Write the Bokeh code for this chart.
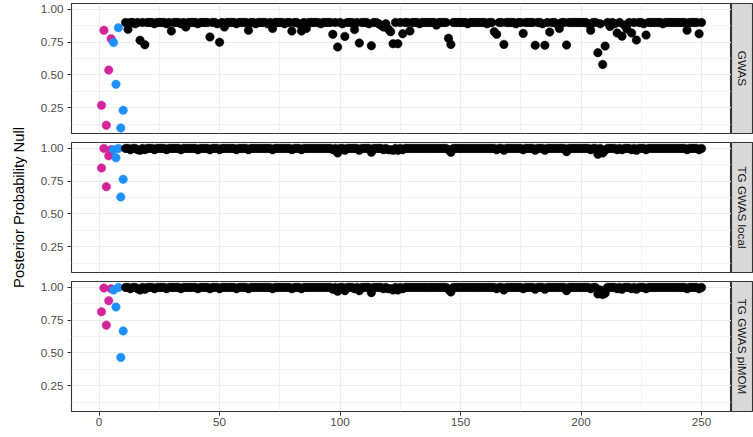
import math
from bokeh.plotting import figure
from bokeh.layouts import row, column
from bokeh.models import Range1d, FixedTicker, ColumnDataSource
from bokeh.embed import file_html
from bokeh.resources import INLINE
from bokeh.core.properties import value

# ---------------- data ----------------
facet_labels = ["GWAS", "TG GWAS local", "TG GWAS piMOM"]
y_axis_title = "Posterior Probability Null"

x_ticks = [0, 50, 100, 150, 200, 250]
x_tick_labels = ["0", "50", "100", "150", "200", "250"]
x_minor = [25, 75, 125, 175, 225]
y_ticks = [0.25, 0.50, 0.75, 1.00]
y_tick_labels = ["0.25", "0.50", "0.75", "1.00"]
y_minor = [0.125, 0.375, 0.625, 0.875]

# point index 1..250; first 5 = group A (magenta), next 5 = group B (blue), rest = other (black)
group_colors = {"A": "#D3249A", "B": "#1E90FF", "other": "#000000"}
group = ["A"] * 5 + ["B"] * 5 + ["other"] * 240

gwas = [
    0.268, 0.84, 0.116, 0.537, 0.776, 0.748, 0.428, 0.86, 0.095, 0.23,
    0.90, 0.848, 0.90, 0.90, 0.89, 0.90, 0.764, 0.90, 0.73, 0.90,
    0.90, 0.90, 0.89, 0.90, 0.90, 0.90, 0.90, 0.89, 0.90, 0.835,
    0.90, 0.90, 0.90, 0.89, 0.90, 0.865, 0.90, 0.90, 0.90, 0.90,
    0.89, 0.90, 0.90, 0.90, 0.90, 0.79, 0.90, 0.90, 0.89, 0.75,
    0.90, 0.865, 0.90, 0.90, 0.90, 0.90, 0.89, 0.90, 0.90, 0.90,
    0.90, 0.84, 0.90, 0.90, 0.89, 0.90, 0.90, 0.90, 0.90, 0.89,
    0.90, 0.855, 0.90, 0.90, 0.90, 0.90, 0.89, 0.90, 0.90, 0.835,
    0.90, 0.90, 0.89, 0.835, 0.90, 0.855, 0.90, 0.90, 0.90, 0.90,
    0.90, 0.89, 0.90, 0.90, 0.90, 0.90, 0.81, 0.90, 0.713, 0.90,
    0.89, 0.794, 0.90, 0.90, 0.90, 0.846, 0.90, 0.743, 0.90, 0.90,
    0.90, 0.89, 0.723, 0.90, 0.90, 0.89, 0.88, 0.865, 0.89, 0.85,
    0.83, 0.738, 0.90, 0.738, 0.90, 0.814, 0.90, 0.90, 0.835, 0.90,
    0.90, 0.90, 0.89, 0.90, 0.90, 0.90, 0.90, 0.90, 0.90, 0.88,
    0.90, 0.90, 0.90, 0.90, 0.78, 0.733, 0.90, 0.90, 0.90, 0.90,
    0.90, 0.90, 0.89, 0.90, 0.90, 0.90, 0.90, 0.90, 0.90, 0.90,
    0.89, 0.90, 0.90, 0.83, 0.81, 0.90, 0.90, 0.733, 0.90, 0.90,
    0.90, 0.90, 0.89, 0.90, 0.90, 0.817, 0.90, 0.90, 0.90, 0.90,
    0.726, 0.90, 0.90, 0.89, 0.726, 0.90, 0.827, 0.90, 0.90, 0.89,
    0.855, 0.90, 0.90, 0.728, 0.90, 0.90, 0.90, 0.90, 0.90, 0.90,
    0.90, 0.90, 0.89, 0.84, 0.90, 0.90, 0.67, 0.89, 0.58, 0.72,
    0.90, 0.87, 0.90, 0.89, 0.82, 0.90, 0.796, 0.88, 0.85, 0.90,
    0.82, 0.90, 0.766, 0.90, 0.90, 0.89, 0.804, 0.90, 0.90, 0.90,
    0.90, 0.90, 0.90, 0.89, 0.90, 0.90, 0.90, 0.90, 0.90, 0.90,
    0.90, 0.90, 0.90, 0.84, 0.90, 0.90, 0.90, 0.90, 0.814, 0.90,
]

tg_local = [
    0.85, 1.00, 0.708, 0.943, 0.99, 0.99, 0.928, 1.00, 0.63, 0.764,
    1.00, 1.00, 0.99, 1.00, 1.00, 0.99, 0.985, 1.00, 0.99, 1.00,
    1.00, 1.00, 0.99, 1.00, 1.00, 1.00, 1.00, 0.99, 1.00, 1.00,
    1.00, 1.00, 1.00, 0.99, 1.00, 1.00, 1.00, 1.00, 1.00, 1.00,
    0.99, 1.00, 1.00, 1.00, 1.00, 0.99, 1.00, 1.00, 1.00, 0.99,
    1.00, 1.00, 1.00, 1.00, 1.00, 1.00, 0.99, 1.00, 1.00, 1.00,
    1.00, 0.99, 1.00, 1.00, 1.00, 1.00, 1.00, 1.00, 1.00, 1.00,
    1.00, 0.99, 1.00, 1.00, 1.00, 1.00, 1.00, 1.00, 1.00, 0.99,
    1.00, 1.00, 1.00, 0.99, 1.00, 1.00, 1.00, 1.00, 1.00, 1.00,
    1.00, 1.00, 1.00, 1.00, 1.00, 1.00, 0.99, 1.00, 0.965, 1.00,
    1.00, 0.985, 1.00, 1.00, 1.00, 1.00, 1.00, 0.985, 1.00, 1.00,
    1.00, 1.00, 0.97, 1.00, 1.00, 1.00, 1.00, 0.99, 1.00, 0.99,
    0.99, 0.985, 1.00, 0.985, 1.00, 0.99, 1.00, 1.00, 1.00, 1.00,
    1.00, 1.00, 1.00, 1.00, 1.00, 1.00, 1.00, 1.00, 1.00, 1.00,
    1.00, 1.00, 1.00, 1.00, 0.99, 0.97, 1.00, 1.00, 1.00, 1.00,
    1.00, 1.00, 1.00, 1.00, 1.00, 1.00, 1.00, 1.00, 1.00, 1.00,
    1.00, 1.00, 1.00, 1.00, 0.99, 1.00, 1.00, 0.985, 1.00, 1.00,
    1.00, 1.00, 1.00, 1.00, 1.00, 0.99, 1.00, 1.00, 1.00, 1.00,
    0.985, 1.00, 1.00, 1.00, 0.985, 1.00, 1.00, 1.00, 1.00, 1.00,
    1.00, 1.00, 1.00, 0.975, 1.00, 1.00, 1.00, 1.00, 1.00, 1.00,
    1.00, 1.00, 1.00, 0.99, 1.00, 1.00, 0.955, 1.00, 0.965, 0.985,
    1.00, 1.00, 1.00, 1.00, 0.99, 1.00, 0.99, 1.00, 1.00, 1.00,
    0.99, 1.00, 0.985, 1.00, 1.00, 1.00, 0.99, 1.00, 1.00, 1.00,
    1.00, 1.00, 1.00, 1.00, 1.00, 1.00, 1.00, 1.00, 1.00, 1.00,
    1.00, 1.00, 1.00, 0.99, 1.00, 1.00, 1.00, 1.00, 0.99, 1.00,
]

tg_pimom = [
    0.814, 0.995, 0.712, 0.898, 0.99, 0.98, 0.85, 1.00, 0.466, 0.668,
    1.00, 1.00, 0.99, 1.00, 1.00, 0.99, 0.98, 1.00, 0.985, 1.00,
    1.00, 1.00, 0.99, 1.00, 1.00, 1.00, 1.00, 0.99, 1.00, 1.00,
    1.00, 1.00, 1.00, 0.99, 1.00, 1.00, 1.00, 1.00, 1.00, 1.00,
    0.99, 1.00, 1.00, 1.00, 1.00, 0.99, 1.00, 1.00, 1.00, 0.99,
    1.00, 1.00, 1.00, 1.00, 1.00, 1.00, 0.99, 1.00, 1.00, 1.00,
    1.00, 0.99, 1.00, 1.00, 1.00, 1.00, 1.00, 1.00, 1.00, 1.00,
    1.00, 0.99, 1.00, 1.00, 1.00, 1.00, 1.00, 1.00, 1.00, 0.99,
    1.00, 1.00, 1.00, 0.99, 1.00, 1.00, 1.00, 1.00, 1.00, 1.00,
    1.00, 1.00, 1.00, 1.00, 1.00, 1.00, 0.985, 1.00, 0.97, 1.00,
    1.00, 0.975, 1.00, 1.00, 1.00, 0.99, 1.00, 0.975, 1.00, 1.00,
    1.00, 1.00, 0.96, 1.00, 1.00, 1.00, 1.00, 0.99, 1.00, 0.99,
    0.99, 0.98, 1.00, 0.98, 1.00, 0.99, 1.00, 1.00, 1.00, 1.00,
    1.00, 1.00, 1.00, 1.00, 1.00, 1.00, 1.00, 1.00, 1.00, 1.00,
    1.00, 1.00, 1.00, 1.00, 0.985, 0.965, 1.00, 1.00, 1.00, 1.00,
    1.00, 1.00, 1.00, 1.00, 1.00, 1.00, 1.00, 1.00, 1.00, 1.00,
    1.00, 1.00, 1.00, 1.00, 0.99, 1.00, 1.00, 0.98, 1.00, 1.00,
    1.00, 1.00, 1.00, 1.00, 1.00, 0.99, 1.00, 1.00, 1.00, 1.00,
    0.985, 1.00, 1.00, 1.00, 0.985, 1.00, 1.00, 1.00, 1.00, 1.00,
    1.00, 1.00, 1.00, 0.975, 1.00, 1.00, 1.00, 1.00, 1.00, 1.00,
    1.00, 1.00, 1.00, 0.99, 1.00, 1.00, 0.95, 0.98, 0.945, 0.955,
    1.00, 1.00, 1.00, 1.00, 0.99, 1.00, 0.985, 1.00, 1.00, 1.00,
    0.99, 1.00, 0.985, 1.00, 1.00, 1.00, 0.99, 1.00, 1.00, 1.00,
    1.00, 1.00, 1.00, 1.00, 1.00, 1.00, 1.00, 1.00, 1.00, 1.00,
    1.00, 1.00, 1.00, 0.99, 1.00, 1.00, 1.00, 1.00, 0.99, 1.00,
]

index = list(range(1, len(gwas) + 1))
panel_values = [gwas, tg_local, tg_pimom]

# ---------------- styling ----------------
FONT = "Liberation Sans"
LABEL_W = 30
PANEL_W = 701   # incl. left border (tick labels)
STRIP_W = 22
FRAME_H = 130
LEFT = 41
TOP = 3
GAP = 9
BOTTOM = 26
TOTAL_H = TOP + FRAME_H + GAP + FRAME_H + GAP + FRAME_H + BOTTOM
x_range = Range1d(-11.45, 262.45)
y_range = Range1d(0.053, 1.045)


def make_panel(vals, top, bottom, show_x):
    p = figure(width=PANEL_W, height=top + FRAME_H + bottom,
               x_range=x_range, y_range=y_range,
               output_backend="svg", toolbar_location=None,
               x_axis_location="below" if show_x else None,
               min_border_left=LEFT, min_border_right=0,
               min_border_top=top, min_border_bottom=bottom)
    p.background_fill_color = "white"
    p.border_fill_color = "white"
    p.outline_line_color = "#333333"
    p.outline_line_width = 1.1

    xt = FixedTicker(ticks=x_ticks, minor_ticks=x_minor)
    yt = FixedTicker(ticks=y_ticks, minor_ticks=y_minor)
    p.xgrid.ticker = xt
    p.ygrid.ticker = yt
    for g in (p.xgrid, p.ygrid):
        g.grid_line_color = "#EBEBEB"
        g.grid_line_width = 1.1
        g.minor_grid_line_color = "#EBEBEB"
        g.minor_grid_line_width = 0.6

    axes = list(p.yaxis) + (list(p.xaxis) if show_x else [])
    p.yaxis.ticker = yt
    p.yaxis.major_label_overrides = {t: l for t, l in zip(y_ticks, y_tick_labels)}
    p.yaxis.major_label_standoff = 4
    if show_x:
        p.xaxis.ticker = xt
        p.xaxis.major_label_overrides = {t: l for t, l in zip(x_ticks, x_tick_labels)}
        p.xaxis.major_label_standoff = 2
    for ax in axes:
        ax.axis_line_color = None
        ax.major_tick_line_color = "#333333"
        ax.major_tick_out = 4
        ax.major_tick_in = 0
        ax.minor_tick_line_color = None
        ax.major_label_text_font = FONT
        ax.major_label_text_font_size = "11.7px"
        ax.major_label_text_color = "#4D4D4D"

    src = ColumnDataSource(dict(x=index, y=vals,
                                color=[group_colors[g] for g in group]))
    p.scatter("x", "y", source=src, size=8.5, fill_color="color",
              line_color="color", line_width=0.5)
    return p


def make_strip(label, top, bottom):
    s = figure(width=STRIP_W, height=top + FRAME_H + bottom,
               x_range=Range1d(0, 1), y_range=Range1d(0, 1),
               output_backend="svg", toolbar_location=None,
               x_axis_location=None, y_axis_location=None,
               min_border_left=0, min_border_right=0,
               min_border_top=top, min_border_bottom=bottom)
    s.grid.visible = False
    s.background_fill_color = "#D9D9D9"
    s.border_fill_color = "white"
    s.outline_line_color = "#333333"
    s.outline_line_width = 1.1
    s.text(x=[0.5], y=[0.5], text=[label], angle=-math.pi / 2,
           text_align="center", text_baseline="middle",
           text_font=value(FONT), text_font_size="11.7px",
           text_color="#1A1A1A")
    return s


# y-axis title column (spans all panels)
lab = figure(width=LABEL_W, height=TOTAL_H,
             x_range=Range1d(0, LABEL_W), y_range=Range1d(0, TOTAL_H),
             output_backend="svg", toolbar_location=None,
             x_axis_location=None, y_axis_location=None,
             min_border=0)
lab.grid.visible = False
lab.outline_line_color = None
lab.background_fill_color = "white"
lab.border_fill_color = "white"
panel_mid = TOTAL_H - (TOP + (3 * FRAME_H + 2 * GAP) / 2)
lab.text(x=[18], y=[panel_mid], text=[y_axis_title], angle=math.pi / 2,
         text_align="center", text_baseline="middle",
         text_font=value(FONT), text_font_size="14.7px", text_color="#000000")

borders = [(TOP, GAP), (0, GAP), (0, BOTTOM)]
rows = []
for i, (vals, lbl) in enumerate(zip(panel_values, facet_labels)):
    top, bottom = borders[i]
    p = make_panel(vals, top, bottom, show_x=(i == 2))
    s = make_strip(lbl, top, bottom)
    rows.append(row(p, s, spacing=0))

layout = row(lab, column(*rows, spacing=0), spacing=0)

open("out.html", "w").write(file_html(layout, INLINE))
